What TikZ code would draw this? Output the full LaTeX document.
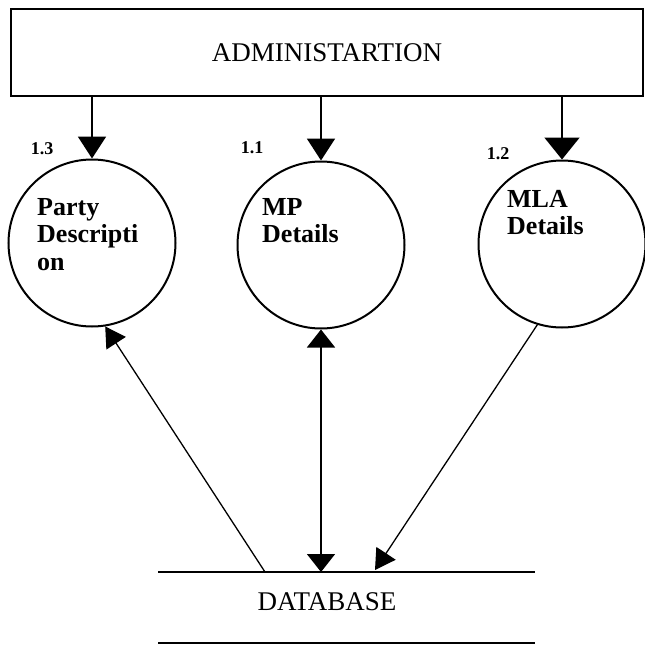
\documentclass[tikz,border=0pt]{standalone}
\usepackage{fontspec}
\setmainfont{Liberation Serif}
\usetikzlibrary{arrows.meta}
\begin{document}
\begin{tikzpicture}[x=1pt, y=-1pt,
	process/.style={draw, circle, line width=2pt, minimum size=167pt, inner sep=0pt},
	ptext/.style={anchor=north west, align=left, inner sep=0pt, font=\fontsize{26}{27.5}\selectfont\bfseries},
	pnum/.style={font=\fontsize{18}{18}\selectfont\bfseries, inner sep=0pt},
	flow/.style={line width=2pt, -{Triangle[width=28pt, length=22pt]}}]
	\useasboundingbox (0,0) rectangle (645,646);

	\node[draw, line width=2.5pt, minimum width=632pt, minimum height=87pt, font=\fontsize{27}{27}\selectfont] (adm) at (327,52.5) {ADMINISTARTION};

	\node[process] (p13) at (92,243) {};
	\node[process] (p11) at (321,245) {};
	\node[process] (p12) at (562,244) {};

	\node[ptext] (t13) at (37,198) {Party\\Descripti\\on};
	\node[ptext] (t11) at (262,198) {MP\\Details};
	\node[ptext] (t12) at (507,190) {MLA\\Details};

	\node[pnum] (n13) at (42,149) {1.3};
	\node[pnum] (n11) at (252,148) {1.1};
	\node[pnum] (n12) at (498,154) {1.2};

	\draw[flow] (p13.north |- adm.south) -- (p13.north);
	\draw[flow] (p11.north |- adm.south) -- (p11.north);
	\draw[flow, -{Triangle[width=35pt, length=22pt]}] (p12.north |- adm.south) -- (p12.north);

	% data store
	\coordinate (dbl) at (158,572);
	\coordinate (dbr) at (535,572);
	\draw[line width=2pt] (dbl) -- (dbr);
	\draw[line width=2pt] (158,643) -- (535,643);
	\node[font=\fontsize{27}{27}\selectfont] (db) at (327,602) {DATABASE};

	\coordinate (inl) at (265,572);
	\coordinate (inr) at (375,570);
	\draw[line width=1.3pt, -{Triangle[width=23pt, length=20pt]}] (inl) -- (p13.-81);
	\draw[line width=1.6pt, {Triangle[width=28pt, length=18pt]}-{Triangle[width=28pt, length=18pt]}] (p11.south) -- (p11.south |- dbl);
	\draw[line width=1.3pt, -{Triangle[width=23pt, length=20pt]}] (p12.-107) -- (inr);
\end{tikzpicture}
\end{document}
